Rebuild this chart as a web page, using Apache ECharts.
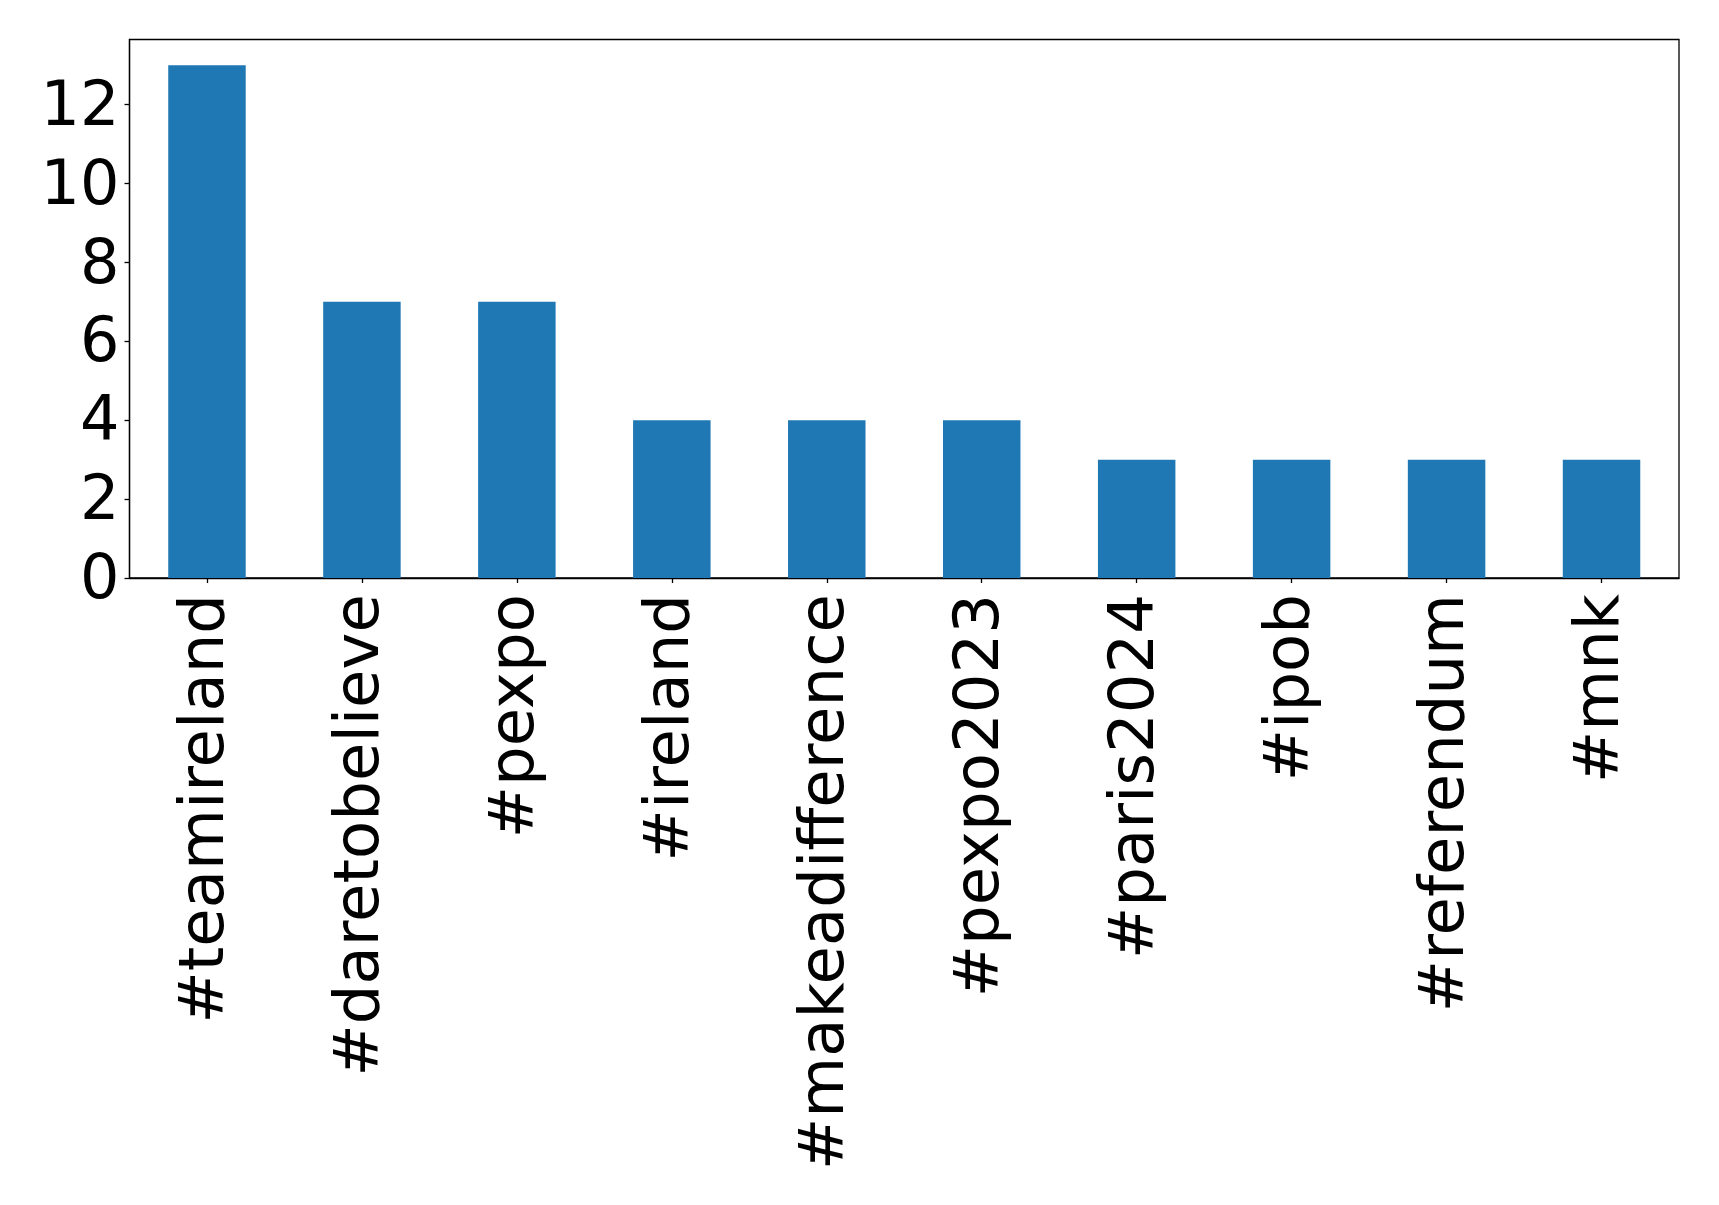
<!DOCTYPE html>
<html>
<head>
<meta charset="utf-8">
<script src="https://cdn.jsdelivr.net/npm/echarts@6/dist/echarts.min.js"></script>
<style>html,body{margin:0;padding:0;background:#fff}#c{width:1719px;height:1205px}</style>
</head>
<body>
<div id="c"></div>
<script>
const categories = ['#teamireland','#daretobelieve','#pexpo','#ireland','#makeadifference','#pexpo2023','#paris2024','#ipob','#referendum','#mnk'];
const counts = [13, 7, 7, 4, 4, 4, 3, 3, 3, 3];
const yTicks = [0, 2, 4, 6, 8, 10, 12];

const chart = echarts.init(document.getElementById('c'), null, {renderer: 'canvas'});
const font = 'DejaVu Sans';
chart.setOption({
  animation: false,
  backgroundColor: '#ffffff',
  grid: {left: 129.5, top: 39.5, right: 40, bottom: 627, show: true, borderColor: '#000', borderWidth: 1.3, containLabel: false},
  xAxis: {
    type: 'category',
    data: categories,
    boundaryGap: true,
    axisLine: {show: true, lineStyle: {color: '#000', width: 1.3}},
    axisTick: {show: true, alignWithLabel: true, length: 5, lineStyle: {color: '#000', width: 1.3}},
    axisLabel: {rotate: 90, interval: 0, margin: 16, padding: [10, 0, 0, 0], color: '#000', fontFamily: font, fontSize: 62.5},
    splitLine: {show: false}
  },
  yAxis: {
    type: 'value',
    min: 0, max: 13.65, interval: 2,
    axisLine: {show: true, lineStyle: {color: '#000', width: 1.3}},
    axisTick: {show: true, length: 5, lineStyle: {color: '#000', width: 1.3}},
    axisLabel: {color: '#000', fontFamily: font, fontSize: 62, margin: 10, verticalAlign: 'top', lineHeight: 8, showMaxLabel: false,
      formatter: v => yTicks.includes(v) ? String(v) : ''},
    splitLine: {show: false}
  },
  series: [{
    type: 'bar',
    data: counts,
    barWidth: '50%',
    itemStyle: {color: '#1f77b4'}
  }]
});
</script>
</body>
</html>
